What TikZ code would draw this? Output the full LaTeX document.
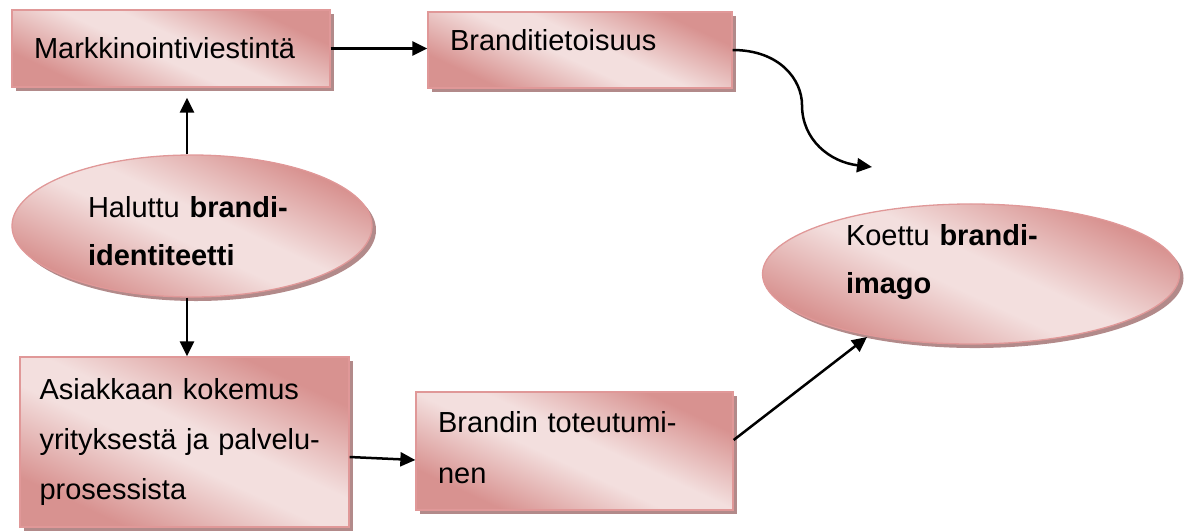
\documentclass[tikz,border=0pt]{standalone}
\usepackage{fontspec}
\setmainfont{Liberation Sans}
\usetikzlibrary{arrows.meta,shapes.geometric,shadows}
\definecolor{pinkdark}{RGB}{216,146,144}
\definecolor{pinklight}{RGB}{243,223,222}
\definecolor{pinkedge}{RGB}{224,152,152}
\definecolor{shadowc}{RGB}{178,138,138}
\pgfdeclareverticalshading{pinkband}{100bp}{color(0bp)=(pinkdark); color(27bp)=(pinkdark); color(46bp)=(pinklight); color(54bp)=(pinklight); color(73bp)=(pinkdark); color(100bp)=(pinkdark)}
\tikzset{
  txt/.style={font=\fontsize{29}{50}\selectfont},
  fillsh/.style={shading=pinkband, shading angle=-25, draw=pinkedge, line width=1.3pt,
    drop shadow={shadow xshift=4pt, shadow yshift=-4pt, fill=shadowc, opacity=1}},
  boxnode/.style={fillsh, txt, rectangle, inner xsep=0pt, inner ysep=0pt, align=left},
  ellnode/.style={fillsh, txt, ellipse, inner sep=0pt, align=left},
  arr/.style={line width=2.5pt, -{Triangle[length=15pt,width=14pt]}}
}
\begin{document}
\begin{tikzpicture}[x=1pt,y=-1pt]
\useasboundingbox (0,0) rectangle (1190,531);
\node[boxnode, minimum width=318pt, minimum height=77pt, text width=274pt] (b1) at (171,48.5) {Markkinointiviestintä};
\node[boxnode, minimum width=304pt, minimum height=76pt, text width=260pt] (b2) at (580,50) {Branditietoisuus\rule[-21pt]{0pt}{21pt}};
\node[boxnode, minimum width=329pt, minimum height=170pt, text width=290pt] (b3) at (184.5,442) {Asiakkaan kokemus\\yrityksestä ja palvelu-\\prosessista};
\node[boxnode, minimum width=317pt, minimum height=118pt, text width=273pt] (b4) at (574.5,451) {Brandin toteutumi-\\[1pt]nen\rule[-8pt]{0pt}{8pt}};
\node[ellnode, minimum width=360pt, minimum height=142pt, text width=208pt] (e1) at (192,226) {\rule{0pt}{32pt}Haluttu \textbf{brandi-}\\[-2pt]\textbf{identiteetti}};
\node[ellnode, minimum width=417pt, minimum height=128pt, text width=250pt] (e2) at (971,274) {Koettu \textbf{brandi-}\\[-2pt]\textbf{imago}\rule[-30pt]{0pt}{30pt}};
\coordinate (t1) at (872,167);
\coordinate (t2) at (867,337);
\draw[arr] (b1.east) -- (b1.east -| b2.west);
\draw[arr] ([xshift=-5pt]e1.north) -- ([xshift=16pt,yshift=-10pt]b1.south);
\draw[arr] ([xshift=-5pt]e1.south) -- ([xshift=2.5pt]b3.north);
\draw[arr] ([yshift=-15pt]b3.east) -- ([yshift=-9pt]b4.west);
\draw[arr] ([yshift=11pt]b4.east) -- (t2);
\draw[arr] (b2.east) .. controls (780,50) and (802,80) .. (802,105) .. controls (802,140) and (830,162) .. (t1);
\end{tikzpicture}
\end{document}
